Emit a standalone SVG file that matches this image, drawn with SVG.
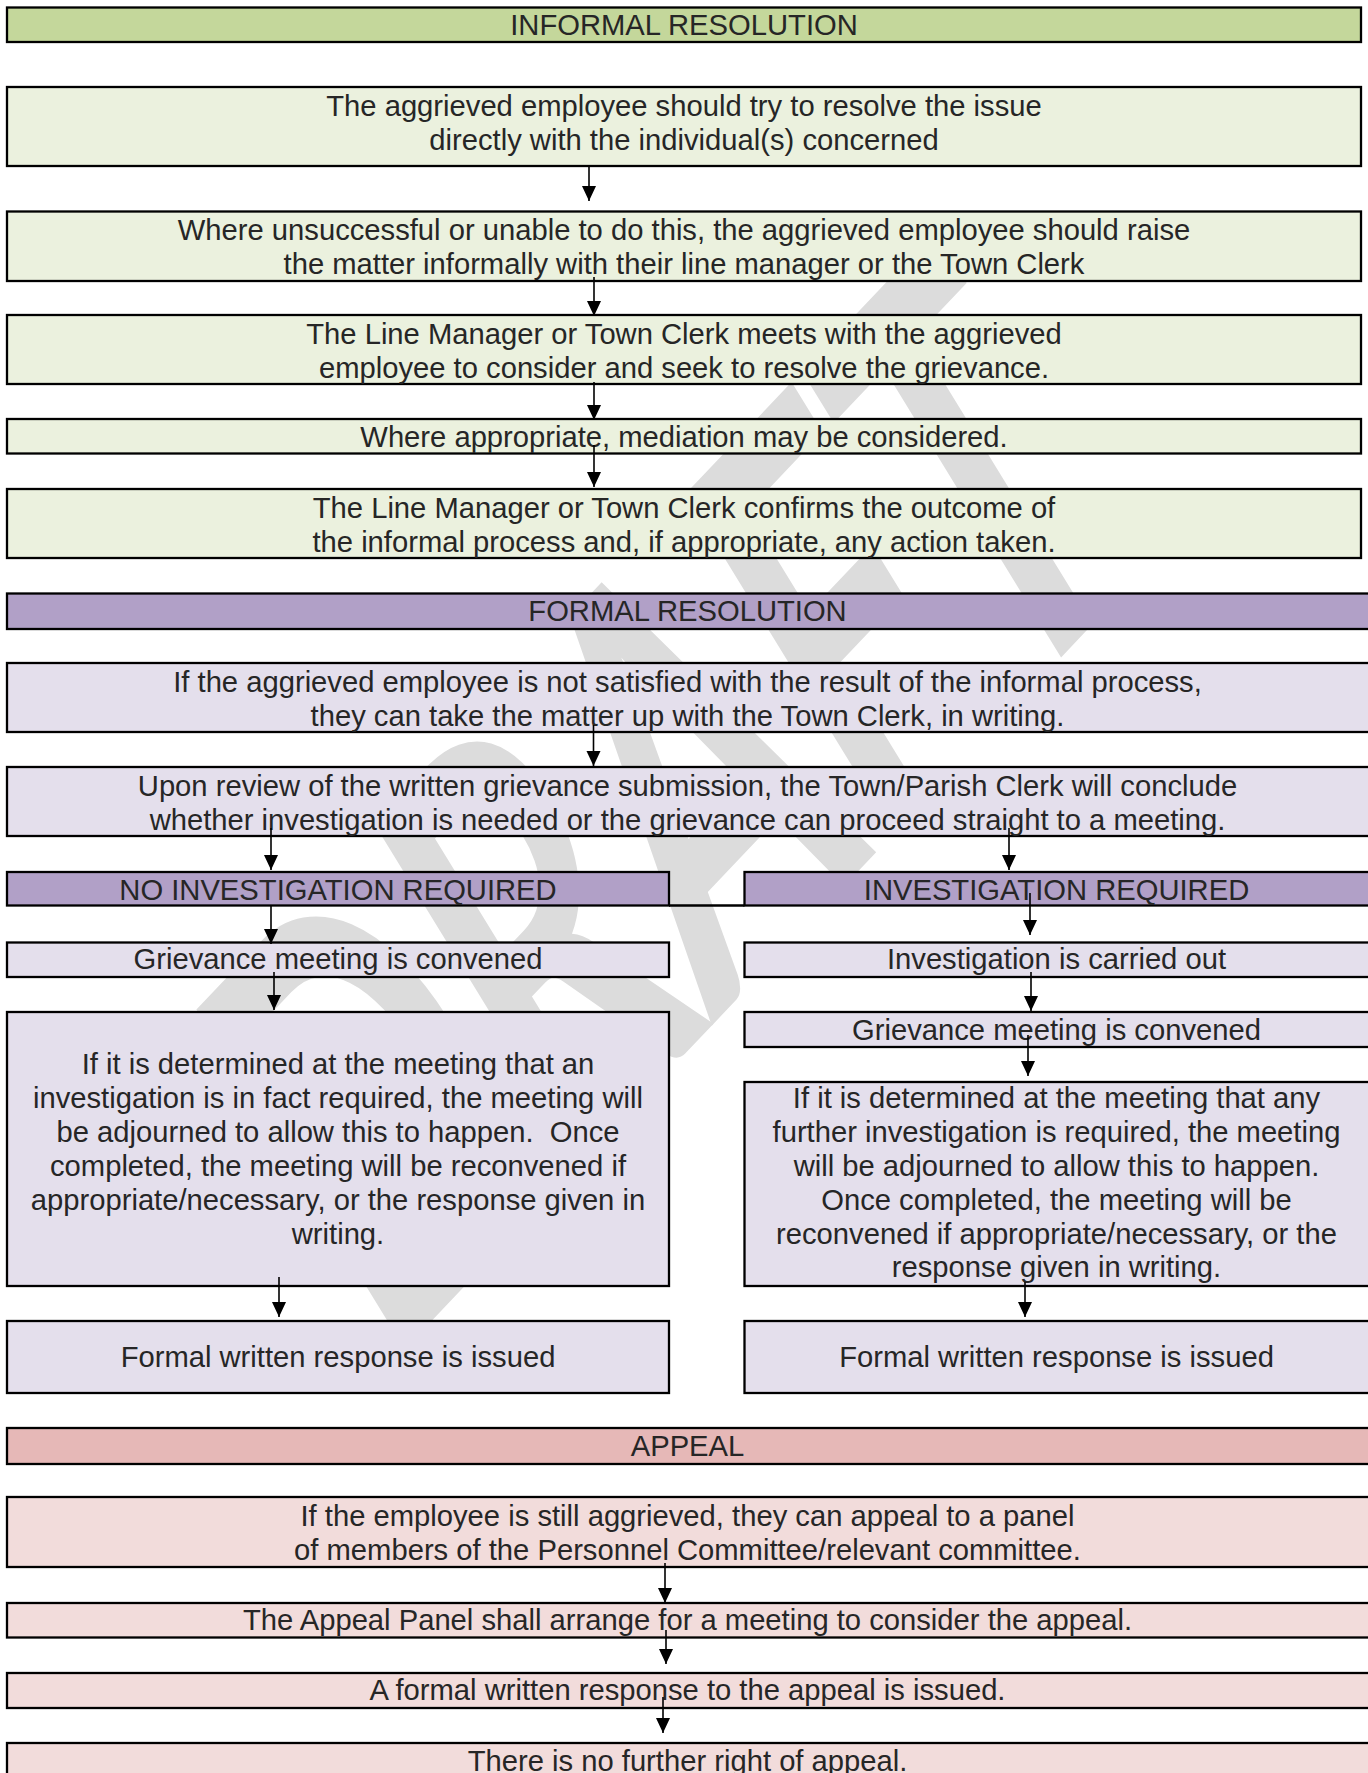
<svg xmlns="http://www.w3.org/2000/svg" width="1368" height="1773" viewBox="0 0 1368 1773">
<style>
  rect.b { stroke:#000; stroke-width:2.3; }
  .gi { fill:#c4d79b; } .li { fill:#ebf1de; }
  .gf { fill:#b1a0c7; } .lf { fill:#e4dfec; }
  .ga { fill:#e6b8b7; } .la { fill:#f2dcdb; }
  text.t { font-family:"Liberation Sans", Arial, sans-serif; font-size:29.2px; fill:#262626; text-anchor:middle; white-space:pre; }
  .c line { stroke:#000; stroke-width:1.6; marker-end:url(#ah); }
</style>
<defs>
  <marker id="ah" markerUnits="userSpaceOnUse" markerWidth="16" markerHeight="16" refX="15" refY="7" orient="auto">
    <path d="M0,0 L15,7 L0,14 Z" fill="#000"/>
  </marker>
</defs>
<rect width="1368" height="1773" fill="#fff"/>
<g id="watermark">
  <text x="0" y="0" textLength="976" lengthAdjust="spacingAndGlyphs" transform="translate(386,1369) scale(1,1.311) rotate(-38.8)" style="font-family:Lato,'Liberation Sans',sans-serif;font-weight:bold;font-size:460px;fill:#dcdcdc;">DRAFT</text>
</g>

<g id="h-informal"><rect class="b gi" x="7" y="7.5" width="1354" height="34.5"/><text class="t" x="684" y="35">INFORMAL RESOLUTION</text></g>
<g id="n1"><rect class="b li" x="7" y="87" width="1354" height="79"/><text class="t" x="684" y="115.5">The aggrieved employee should try to resolve the issue<tspan x="684" y="149.5">directly with the individual(s) concerned</tspan></text></g>
<g id="n2"><rect class="b li" x="7" y="211.5" width="1354" height="69.5"/><text class="t" x="684" y="240">Where unsuccessful or unable to do this, the aggrieved employee should raise<tspan x="684" y="274">the matter informally with their line manager or the Town Clerk</tspan></text></g>
<g id="n3"><rect class="b li" x="7" y="315" width="1354" height="69"/><text class="t" x="684" y="343.5">The Line Manager or Town Clerk meets with the aggrieved<tspan x="684" y="377.5">employee to consider and seek to resolve the grievance.</tspan></text></g>
<g id="n4"><rect class="b li" x="7" y="419" width="1354" height="34.5"/><text class="t" x="684" y="446.7">Where appropriate, mediation may be considered.</text></g>
<g id="n5"><rect class="b li" x="7" y="489" width="1354" height="69"/><text class="t" x="684" y="517.7">The Line Manager or Town Clerk confirms the outcome of<tspan x="684" y="551.7">the informal process and, if appropriate, any action taken.</tspan></text></g>

<g id="h-formal"><rect class="b gf" x="7" y="593.5" width="1370" height="35.5"/><text class="t" x="687.5" y="621">FORMAL RESOLUTION</text></g>
<g id="f1"><rect class="b lf" x="7" y="663" width="1370" height="69"/><text class="t" x="687.5" y="691.8">If the aggrieved employee is not satisfied with the result of the informal process,<tspan x="687.5" y="725.8">they can take the matter up with the Town Clerk, in writing.</tspan></text></g>
<g id="f2"><rect class="b lf" x="7" y="767" width="1370" height="69"/><text class="t" x="687.5" y="796">Upon review of the written grievance submission, the Town/Parish Clerk will conclude<tspan x="687.5" y="830">whether investigation is needed or the grievance can proceed straight to a meeting.</tspan></text></g>

<g id="h-noinv"><rect class="b gf" x="7" y="872" width="662" height="33.5"/><text class="t" x="338" y="899.5">NO INVESTIGATION REQUIRED</text></g>
<g id="h-inv"><rect class="b gf" x="744.5" y="872" width="632" height="33.5"/><text class="t" x="1056.5" y="899.5">INVESTIGATION REQUIRED</text></g>
<line x1="669" y1="905.5" x2="744.5" y2="905.5" stroke="#000" stroke-width="2.3"/>

<g id="l1"><rect class="b lf" x="7" y="942.5" width="662" height="34.5"/><text class="t" x="338" y="968.5">Grievance meeting is convened</text></g>
<g id="l2"><rect class="b lf" x="7" y="1012" width="662" height="274"/><text class="t" x="338" y="1074">If it is determined at the meeting that an<tspan x="338" y="1107.9">investigation is in fact required, the meeting will</tspan><tspan x="338" y="1141.8">be adjourned to allow this to happen.  Once</tspan><tspan x="338" y="1175.7">completed, the meeting will be reconvened if</tspan><tspan x="338" y="1209.6">appropriate/necessary, or the response given in</tspan><tspan x="338" y="1243.5">writing.</tspan></text></g>
<g id="l3"><rect class="b lf" x="7" y="1321" width="662" height="72"/><text class="t" x="338" y="1367">Formal written response is issued</text></g>

<g id="r1"><rect class="b lf" x="744.5" y="942.5" width="632" height="34.5"/><text class="t" x="1056.5" y="968.5">Investigation is carried out</text></g>
<g id="r2"><rect class="b lf" x="744.5" y="1012" width="632" height="35"/><text class="t" x="1056.5" y="1039.5">Grievance meeting is convened</text></g>
<g id="r3"><rect class="b lf" x="744.5" y="1082" width="632" height="204"/><text class="t" x="1056.5" y="1108.3">If it is determined at the meeting that any<tspan x="1056.5" y="1142.1">further investigation is required, the meeting</tspan><tspan x="1056.5" y="1175.9">will be adjourned to allow this to happen.</tspan><tspan x="1056.5" y="1209.7">Once completed, the meeting will be</tspan><tspan x="1056.5" y="1243.5">reconvened if appropriate/necessary, or the</tspan><tspan x="1056.5" y="1277.3">response given in writing.</tspan></text></g>
<g id="r4"><rect class="b lf" x="744.5" y="1321" width="632" height="72"/><text class="t" x="1056.5" y="1367">Formal written response is issued</text></g>

<g id="h-appeal"><rect class="b ga" x="7" y="1428" width="1370" height="36"/><text class="t" x="687.5" y="1455.5">APPEAL</text></g>
<g id="a1"><rect class="b la" x="7" y="1497" width="1370" height="70"/><text class="t" x="687.5" y="1525.8">If the employee is still aggrieved, they can appeal to a panel<tspan x="687.5" y="1559.8">of members of the Personnel Committee/relevant committee.</tspan></text></g>
<g id="a2"><rect class="b la" x="7" y="1603" width="1370" height="34.5"/><text class="t" x="687.5" y="1630.3">The Appeal Panel shall arrange for a meeting to consider the appeal.</text></g>
<g id="a3"><rect class="b la" x="7" y="1673" width="1370" height="35"/><text class="t" x="687.5" y="1700.3">A formal written response to the appeal is issued.</text></g>
<g id="a4"><rect class="b la" x="7" y="1743" width="1370" height="60"/><text class="t" x="687.5" y="1770.5">There is no further right of appeal.</text></g>

<g id="connectors" class="c">
  <line x1="589" y1="167" x2="589" y2="201"/>
  <line x1="594" y1="277" x2="594" y2="316"/>
  <line x1="594" y1="382" x2="594" y2="420"/>
  <line x1="594" y1="445" x2="594" y2="487"/>
  <line x1="593.5" y1="725" x2="593.5" y2="766"/>
  <line x1="271" y1="828" x2="271" y2="870"/>
  <line x1="1009" y1="828" x2="1009" y2="870"/>
  <line x1="271" y1="905" x2="271" y2="944"/>
  <line x1="1030" y1="893" x2="1030" y2="935"/>
  <line x1="274" y1="972" x2="274" y2="1010"/>
  <line x1="1031" y1="972" x2="1031" y2="1011"/>
  <line x1="1028" y1="1035" x2="1028" y2="1076"/>
  <line x1="279" y1="1277" x2="279" y2="1317"/>
  <line x1="1025" y1="1282" x2="1025" y2="1317"/>
  <line x1="665" y1="1563" x2="665" y2="1603"/>
  <line x1="666" y1="1630" x2="666" y2="1664"/>
  <line x1="663" y1="1697" x2="663" y2="1733"/>
</g>
</svg>
